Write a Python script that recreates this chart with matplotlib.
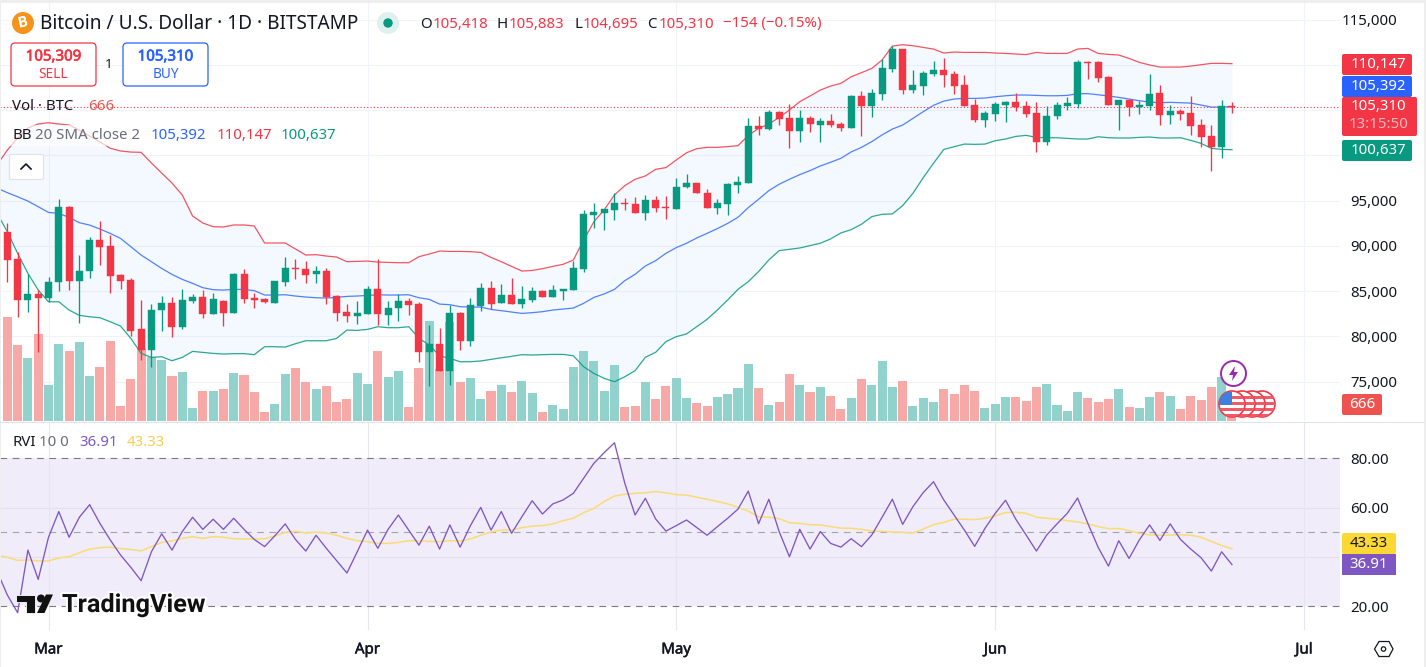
import numpy as np
import matplotlib
matplotlib.use('Agg')
import matplotlib.pyplot as plt
import matplotlib.patheffects as pe
from matplotlib.patches import Rectangle, FancyBboxPatch, Circle, Polygon

plt.rcParams['font.family'] = ['Noto Sans', 'DejaVu Sans']

W, H = 1426, 667

# candle data in thousands of USD, Feb 25 to Jun 24 (day 0 = Mar 1)
opens = [91.54, 88.55, 84.06, 84.7, 84.28, 85.98, 94.3, 86.16, 87.23, 90.66, 89.99, 86.79, 86.24, 80.82, 78.54, 82.92, 83.7, 81.08, 83.9, 84.36,
         82.48, 83.92, 82.59, 86.9, 84.25, 84.14, 83.7, 86.0, 87.56, 87.45, 86.9, 87.23, 84.47, 82.7, 82.26, 82.48, 85.24, 82.37, 83.14, 83.92,
         83.58, 78.28, 79.16, 76.18, 82.59, 79.5, 83.36, 85.35, 83.7, 84.58, 83.58, 84.03, 85.02, 84.36, 85.02, 85.13, 87.45, 93.42, 93.64, 93.97,
         94.78, 94.63, 93.64, 95.07, 94.3, 94.13, 96.51, 96.95, 95.85, 94.19, 94.63, 96.73, 96.95, 103.25, 102.92, 104.8, 104.14, 102.7, 104.14, 103.36,
         103.8, 103.47, 103.03, 106.57, 105.46, 106.79, 109.55, 111.76, 107.23, 107.67, 109.0, 109.44, 109.0, 107.78, 105.57, 103.92, 104.58, 105.57, 105.9, 105.46,
         104.69, 101.48, 104.36, 105.46, 105.68, 110.35, 110.32, 108.67, 105.57, 106.13, 105.35, 105.46, 106.9, 104.47, 104.91, 104.69, 103.36, 102.15, 100.93, 105.418]
highs = [92.5, 89.3, 86.9, 85.13, 86.53, 95.15, 94.41, 89.0, 91.02, 92.75, 91.2, 86.9, 86.42, 84.03, 83.55, 84.43, 84.36, 85.3, 84.7, 85.13,
         84.8, 84.03, 87.0, 87.45, 84.8, 84.25, 86.12, 88.78, 88.56, 88.33, 87.78, 87.56, 84.58, 83.58, 83.92, 85.57, 88.52, 83.92, 84.7, 84.25,
         83.8, 81.26, 80.93, 83.47, 82.74, 84.25, 85.9, 86.12, 85.79, 86.46, 85.57, 85.46, 85.13, 85.68, 85.3, 88.33, 93.97, 94.74, 94.08, 95.85,
         95.3, 95.41, 95.63, 95.52, 95.52, 97.52, 97.95, 96.95, 96.29, 95.19, 96.92, 97.73, 104.13, 104.36, 105.02, 104.91, 105.68, 105.02, 104.36, 104.14,
         104.58, 103.69, 106.68, 107.12, 107.3, 110.66, 112.09, 111.76, 109.44, 109.33, 110.43, 110.77, 109.33, 108.89, 106.24, 104.91, 105.9, 106.01, 106.9, 106.01,
         105.9, 105.46, 105.9, 106.46, 110.55, 110.4, 110.43, 108.78, 106.13, 106.2, 106.01, 109.0, 107.78, 105.57, 105.13, 106.57, 104.03, 103.36, 106.13, 105.883]
lows = [86.0, 82.2, 82.74, 78.28, 83.84, 85.06, 85.13, 81.52, 86.5, 87.93, 84.84, 85.24, 80.08, 77.43, 76.66, 80.64, 79.97, 80.86, 83.73, 82.04,
        82.48, 81.15, 82.59, 83.7, 83.14, 83.7, 83.7, 85.57, 86.35, 85.9, 85.9, 83.58, 81.71, 81.6, 81.37, 82.48, 81.26, 81.26, 81.7, 82.37,
        77.17, 74.52, 76.18, 74.63, 78.5, 78.94, 82.81, 83.03, 83.7, 83.58, 83.14, 83.8, 84.36, 84.36, 84.03, 85.13, 87.12, 91.98, 91.76, 92.87,
        93.97, 93.64, 92.87, 93.75, 92.98, 94.13, 96.41, 95.85, 94.19, 93.53, 93.42, 95.85, 96.95, 102.26, 102.81, 103.36, 100.82, 101.48, 102.59, 101.48,
        103.14, 102.7, 103.03, 102.15, 104.25, 106.13, 109.22, 106.79, 106.9, 106.68, 108.78, 107.56, 106.79, 105.46, 103.7, 103.14, 103.8, 103.69, 104.91, 104.25,
        100.38, 101.15, 104.03, 105.02, 105.24, 108.45, 108.11, 105.57, 102.81, 104.36, 104.58, 105.02, 103.36, 103.47, 103.92, 102.26, 100.93, 98.28, 99.72, 104.695]
closes = [88.48, 84.06, 84.7, 84.28, 85.98, 94.3, 86.16, 87.23, 90.66, 89.92, 86.71, 86.12, 80.64, 78.54, 82.92, 83.7, 81.08, 84.02, 84.4, 82.48,
          84.14, 82.59, 86.9, 84.14, 84.03, 83.8, 86.12, 87.56, 87.45, 86.79, 87.23, 84.36, 82.59, 82.26, 82.59, 85.24, 82.48, 83.14, 83.92, 83.47,
          78.28, 79.16, 76.18, 82.59, 79.5, 83.47, 85.35, 83.58, 84.58, 83.58, 84.14, 85.02, 84.36, 85.13, 85.24, 87.56, 93.53, 93.75, 94.08, 94.74,
          94.63, 93.64, 95.07, 94.19, 94.19, 96.49, 96.95, 95.85, 94.19, 94.74, 96.84, 97.06, 103.25, 102.92, 104.8, 104.03, 102.7, 104.14, 103.47, 103.8,
          103.36, 103.03, 106.57, 105.46, 106.86, 109.66, 111.76, 107.23, 107.78, 109.11, 109.44, 108.89, 107.67, 105.46, 103.92, 104.69, 105.68, 105.9, 105.35, 104.58,
          101.48, 104.36, 105.57, 105.79, 110.32, 110.25, 108.56, 105.57, 106.13, 105.35, 105.57, 106.79, 104.47, 104.91, 104.58, 103.25, 102.04, 100.93, 105.43, 105.31]

# volume in BTC
volumes = [4160, 3040, 2520, 3480, 1440, 3080, 2800, 3160, 1800, 2160, 3200, 600, 1680, 2920, 2560, 2440, 1800, 1960, 520, 1200,
           1200, 1280, 1920, 1840, 1160, 360, 680, 1880, 2120, 1560, 1280, 1400, 760, 880, 1920, 1480, 2800, 1760, 2000, 560,
           2120, 4000, 2080, 3960, 1560, 1720, 880, 1200, 1440, 1160, 1600, 1120, 360, 640, 480, 2160, 2800, 2400, 1200, 2240,
           560, 600, 1560, 880, 1400, 1720, 920, 720, 600, 960, 1080, 1320, 2280, 1320, 640, 760, 1880, 1440, 1160, 1360,
           1000, 480, 920, 1680, 1440, 2400, 1360, 1600, 600, 920, 760, 1280, 1080, 1440, 1200, 520, 680, 960, 960, 800,
           1360, 1480, 640, 400, 1160, 920, 760, 880, 1280, 560, 520, 960, 1160, 1000, 480, 1000, 840, 1360, 1760, 666]

# bollinger bands (thousands), one day earlier than the candles, Feb 24 to Jun 24
bb_upper = [98.95, 100.6, 101.93, 103.04, 103.48, 103.62, 103.48, 103.37, 102.8, 102.15, 101.5, 100.8, 100.5, 100.38, 100.35, 99.17, 98.06, 96.96, 95.63, 93.31,
            92.54, 92.13, 92.1, 92.32, 92.32, 92.21, 90.33, 90.33, 90.33, 89.67, 89.0, 89.04, 88.89, 88.78, 88.26, 88.3, 88.33, 88.22, 88.19, 88.15,
            88.15, 88.82, 89.11, 89.44, 89.4, 89.4, 89.37, 89.29, 88.74, 88.26, 87.75, 87.23, 87.3, 87.49, 87.75, 87.97, 88.45, 90.65, 92.68, 94.0,
            95.64, 96.67, 97.37, 97.74, 98.47, 98.66, 99.5, 100.3, 100.75, 100.9, 100.9, 100.98, 101.09, 102.2, 103.0, 103.47, 104.21, 105.02, 105.94, 106.57,
            107.23, 107.67, 107.97, 108.7, 109.15, 109.62, 110.54, 112.09, 112.24, 112.13, 111.94, 111.76, 111.32, 111.43, 111.39, 111.39, 111.39, 111.32, 111.28, 111.21,
            111.15, 111.39, 111.28, 111.28, 111.28, 111.76, 111.83, 111.28, 111.17, 111.1, 110.73, 110.29, 110.0, 109.77, 109.77, 109.77, 109.88, 110.03, 110.18, 110.18, 110.147]
bb_basis = [96.4, 95.89, 95.44, 94.96, 94.34, 93.71, 93.6, 93.16, 92.57, 92.31, 91.87, 91.39, 90.84, 89.92, 89.0, 88.26, 87.52, 86.86, 86.31, 85.87,
            85.39, 85.17, 85.13, 85.2, 85.2, 85.06, 84.58, 84.58, 84.61, 84.47, 84.36, 84.28, 84.25, 84.32, 84.43, 84.47, 84.54, 84.61, 84.58, 84.58,
            84.61, 84.28, 84.1, 83.58, 83.51, 83.29, 83.25, 83.25, 82.99, 82.85, 82.7, 82.55, 82.63, 82.74, 82.92, 83.03, 83.14, 83.66, 84.32, 84.7,
            85.21, 86.17, 86.87, 87.79, 88.38, 89.19, 89.82, 90.3, 90.89, 91.4, 91.92, 92.5, 93.17, 94.24, 95.16, 96.12, 96.82, 97.37, 97.88, 98.33,
            98.84, 99.25, 99.69, 100.39, 100.9, 101.53, 102.27, 102.92, 103.36, 104.1, 104.84, 105.54, 106.01, 106.24, 106.31, 106.31, 106.35, 106.49, 106.6, 106.68,
            106.68, 106.64, 106.6, 106.6, 106.64, 106.83, 106.83, 106.71, 106.57, 106.42, 106.24, 106.05, 105.9, 105.83, 105.87, 105.83, 105.79, 105.57, 105.35, 105.35, 105.392]
bb_lower = [93.6, 91.58, 89.18, 86.97, 85.13, 83.84, 83.84, 82.92, 82.33, 82.18, 82.07, 81.63, 81.15, 79.79, 78.13, 77.69, 77.76, 77.32, 77.69, 78.35,
            78.24, 78.13, 78.06, 78.1, 78.1, 77.99, 78.87, 78.87, 78.83, 79.2, 79.53, 79.53, 79.53, 79.79, 80.71, 80.67, 80.78, 81.08, 80.97, 80.97,
            81.08, 79.79, 79.05, 77.87, 77.58, 77.21, 77.21, 77.29, 77.47, 77.65, 77.8, 77.99, 77.95, 77.99, 78.02, 78.02, 77.87, 76.66, 75.92, 75.37,
            75.0, 75.55, 76.22, 77.7, 78.25, 79.43, 79.98, 80.28, 81.09, 81.9, 82.93, 84.04, 85.21, 86.06, 87.17, 88.46, 89.49, 89.63, 89.78, 90.04,
            90.3, 90.78, 91.44, 91.81, 92.4, 93.24, 93.5, 93.54, 94.46, 95.82, 97.55, 99.14, 100.67, 100.97, 101.26, 101.23, 101.26, 101.63, 101.82, 102.11,
            102.22, 102.0, 101.96, 101.96, 101.89, 101.82, 101.82, 102.07, 101.96, 101.93, 101.93, 102.0, 102.04, 101.93, 101.93, 101.96, 101.67, 101.34, 100.79, 100.67, 100.637]

# relative volatility index and its moving average, Feb 24 to Jun 24
rvi = [34.2, 24.6, 17.4, 42.8, 30.9, 48.0, 58.4, 48.0, 56.1, 61.2, 53.6, 46.9, 40.8, 35.8, 30.4, 42.1, 49.4, 42.8, 50.3, 56.1,
       51.2, 55.3, 51.2, 55.7, 51.2, 47.1, 44.2, 48.6, 53.4, 47.1, 42.4, 48.8, 43.5, 38.5, 33.5, 42.1, 50.9, 43.5, 51.2, 57.0,
       50.9, 44.8, 52.5, 43.2, 53.0, 44.0, 52.7, 60.1, 50.9, 58.4, 49.6, 56.3, 62.8, 57.4, 61.5, 63.1, 65.8, 71.9, 78.0, 82.3,
       86.3, 69.9, 57.0, 63.8, 55.4, 50.5, 52.7, 55.0, 51.9, 48.8, 52.3, 55.7, 59.4, 66.7, 53.5, 63.4, 50.3, 40.1, 51.2, 43.2,
       50.3, 45.5, 44.0, 47.4, 44.2, 48.9, 56.1, 63.4, 53.2, 60.4, 66.1, 70.5, 63.1, 57.0, 50.9, 44.3, 51.6, 57.7, 63.0, 55.3,
       48.9, 42.4, 48.9, 53.4, 57.7, 63.9, 53.6, 43.9, 36.3, 46.6, 39.4, 46.9, 53.0, 46.7, 53.4, 47.1, 43.2, 39.7, 34.3, 42.1, 36.91]
rvi_ma = [40.7, 39.9, 38.6, 38.8, 38.4, 38.4, 39.6, 40.1, 41.7, 43.2, 43.8, 44.0, 43.4, 43.0, 42.5, 44.2, 45.9, 46.5, 47.55, 48.2,
          47.55, 48.2, 48.0, 47.4, 47.3, 47.3, 47.4, 48.5, 50.0, 50.4, 49.7, 50.1, 49.7, 48.8, 47.55, 46.6, 46.2, 45.5, 45.5, 45.9,
          46.6, 46.5, 46.3, 46.2, 46.6, 46.5, 47.3, 48.8, 50.1, 50.9, 50.9, 51.9, 52.5, 52.7, 53.4, 54.7, 55.7, 58.0, 59.7, 62.5,
          64.7, 65.4, 65.8, 66.0, 66.5, 66.0, 65.3, 65.1, 64.2, 63.4, 62.5, 61.5, 60.1, 58.6, 56.3, 56.1, 55.5, 53.9, 53.6, 53.1,
          53.0, 52.3, 51.7, 51.6, 51.2, 50.5, 50.4, 50.1, 50.0, 49.7, 51.3, 53.1, 54.0, 55.3, 55.3, 55.1, 55.7, 56.7, 58.0, 58.1,
          57.7, 56.1, 55.7, 55.4, 54.7, 54.2, 53.4, 52.3, 51.5, 51.5, 50.7, 49.6, 49.0, 48.8, 48.9, 49.0, 48.8, 48.0, 46.3, 44.6, 43.33]

price_ticks = [75000, 80000, 85000, 90000, 95000, 100000, 105000, 110000, 115000]
# the middle three sit behind the tags on the scale
price_labelled = [75000, 80000, 85000, 90000, 95000, 115000]
rvi_ticks = [20, 40, 50, 60, 80]
rvi_labelled = [20, 60, 80]
month_days = [0, 31, 61, 92, 122]
month_names = ['Mar', 'Apr', 'May', 'Jun', 'Jul']

RED = '#f23645'
GREEN = '#089981'
BLUE = '#2962ff'
PURPLE = '#7e57c2'
YELLOW = '#fbdc74'
GRID = '#f0f3fa'
INK = '#131722'
GREY = '#6a6d78'

o = np.array(opens) * 1000
h = np.array(highs) * 1000
l = np.array(lows) * 1000
c = np.array(closes) * 1000
up = c >= o
days = np.arange(-4, 116)
line_days = np.arange(-5, 116)


def pane(top, bottom):
    # axes from pixel rows, chart area ends at x=1340
    a = fig.add_axes([0, 1 - bottom / H, 1340 / W, (bottom - top) / H])
    a.set_xlim(-4.713, 125.5)
    a.patch.set_visible(False)
    for s in a.spines.values():
        s.set_visible(False)
    return a


def heavy(color, w=0.35):
    # the installed Noto Sans has no heavier cut, so thicken with a stroke
    return [pe.withStroke(linewidth=w, foreground=color)]


fig = plt.figure(figsize=(W / 100, H / 100), dpi=100, facecolor='white')

# bottom layer of the price pane: grid, labels and band fill
ax_grid = pane(3, 421)
ax_grid.set_ylim(70660, 116850)
ax_grid.set_xticks(month_days)
ax_grid.set_yticks(price_ticks)
ax_grid.set_yticklabels(['{:,}'.format(t) if t in price_labelled else '' for t in price_ticks])
ax_grid.grid(True, color=GRID, lw=0.8)
ax_grid.set_axisbelow(True)
ax_grid.tick_params(axis='x', length=0, labelbottom=False)
ax_grid.tick_params(axis='y', length=0, labelleft=False, labelright=True, right=False,
                    labelsize=10.8, labelcolor=INK, pad=41)
for t in ax_grid.get_yticklabels():
    t.set_ha('right')
ax_grid.fill_between(line_days, np.array(bb_upper) * 1000, np.array(bb_lower) * 1000,
                     color='#2196f3', alpha=0.05, lw=0)

# volume, 40 BTC to the pixel
ax_vol = pane(3, 421)
ax_vol.set_ylim(0, 418 * 40)
ax_vol.axis('off')
ax_vol.bar(days, volumes, width=0.88, color=['#92d2cc' if u else '#f7a9a7' for u in up])

# candles and band lines
ax = pane(3, 421)
ax.set_ylim(70660, 116850)
ax.axis('off')
ax.plot(line_days, np.array(bb_upper) * 1000, color=RED, lw=0.9, alpha=0.85)
ax.plot(line_days, np.array(bb_basis) * 1000, color=BLUE, lw=0.9, alpha=0.8)
ax.plot(line_days, np.array(bb_lower) * 1000, color=GREEN, lw=0.9, alpha=0.85)
ax.axhline(c[-1], color=RED, lw=0.8, ls=(0, (1, 2)))
cols = [GREEN if u else RED for u in up]
ax.vlines(days, l, h, colors=cols, lw=0.95, zorder=4)
ax.bar(days, c - o, bottom=o, width=0.68, color=cols, edgecolor=cols, lw=0.3, zorder=5)

# rvi pane
ax_rvi = pane(422, 630)
ax_rvi.set_ylim(10.4, 94.71)
ax_rvi.axhspan(20, 80, color='#f0ecfa', lw=0, zorder=0)
ax_rvi.set_xticks(month_days)
ax_rvi.set_xticklabels(month_names)
ax_rvi.set_yticks(rvi_ticks)
ax_rvi.set_yticklabels(['{:.2f}'.format(t) if t in rvi_labelled else '' for t in rvi_ticks])
ax_rvi.grid(True, axis='x', color='#e6e6f0', lw=0.8)
ax_rvi.set_axisbelow(True)
ax_rvi.tick_params(axis='x', length=0, labelsize=10.8, labelcolor=INK, pad=9)
ax_rvi.tick_params(axis='y', length=0, labelleft=False, labelright=True, right=False,
                   labelsize=10.8, labelcolor=INK, pad=35)
for t in ax_rvi.get_yticklabels():
    t.set_ha('right')
for t in ax_rvi.get_xticklabels():
    t.set_path_effects(heavy(INK))
for v in [60, 40]:
    ax_rvi.axhline(v, color='#e3e1ec', lw=0.8, zorder=0.5)
for v, col in [(80, '#787b86'), (50, '#a3a5ae'), (20, '#787b86')]:
    ax_rvi.axhline(v, color=col, lw=0.8, ls=(0, (6, 5)), zorder=0.6)
ax_rvi.plot(line_days, rvi_ma, color=YELLOW, lw=1.1)
ax_rvi.plot(line_days, rvi, color=PURPLE, lw=0.95)

# everything else sits on a pixel overlay
ui = fig.add_axes([0, 0, 1, 1], zorder=10)
ui.set_xlim(0, W)
ui.set_ylim(H, 0)
ui.axis('off')
ui.patch.set_visible(False)


def txt(x, y, s, color=INK, size=10.8, ha='left', **kw):
    return ui.text(x, y, s, color=color, fontsize=size, ha=ha, va='center', **kw)


def tag(x0, y0, x1, y1, color):
    ui.add_patch(FancyBboxPatch((x0 + 2, y0 + 2), x1 - x0 - 4, y1 - y0 - 4,
                                boxstyle='round,pad=2', fc=color, ec='none'))


# window edges and pane divider
ui.add_patch(Rectangle((0, 0), W, 3, fc='#eeeeee', ec='none'))
ui.add_patch(Rectangle((0, 0), 1, H, fc='#eeeeee', ec='none'))
ui.add_patch(Rectangle((W - 2, 0), 2, H, fc='#eeeeee', ec='none'))
ui.plot([0, W - 2], [421.5, 421.5], color='#e0e3eb', lw=0.8)

# header line
ui.add_patch(Circle((23, 23), 11, fc='#f7931a', ec='none'))
txt(23, 23, 'B', color='white', size=10, ha='center', rotation=12, path_effects=heavy('white', 0.6))
txt(40, 24, 'Bitcoin / U.S. Dollar · 1D · BITSTAMP', size=13.7)
ui.add_patch(Circle((388, 23), 11, fc='#dff1ee', ec='none'))
ui.add_patch(Circle((388, 23), 4.7, fc=GREEN, ec='none'))
for x, s in [(420, 'O'), (496.5, 'H'), (574, 'L'), (647, 'C')]:
    txt(x, 24, s)
for x, s in [(432.5, '105,418'), (509, '105,883'), (583, '104,695'), (659, '105,310'), (723, '−154 (−0.15%)')]:
    txt(x, 24, s, color=RED)

# sell and buy boxes
ui.add_patch(FancyBboxPatch((15, 47), 77, 35, boxstyle='round,pad=4', fc='white', ec=RED, lw=0.9))
ui.add_patch(FancyBboxPatch((127, 47), 77, 35, boxstyle='round,pad=4', fc='white', ec=BLUE, lw=0.9))
txt(53.5, 57, '105,309', color=RED, ha='center', path_effects=heavy(RED, 0.5))
txt(53.5, 74, 'SELL', color=RED, size=9.8, ha='center')
txt(165.5, 57, '105,310', color=BLUE, ha='center', path_effects=heavy(BLUE, 0.5))
txt(165.5, 74, 'BUY', color=BLUE, size=9.8, ha='center')
txt(109, 64, '1', size=9.5, ha='center')

# legends, the BB row has a see-through backing
ui.add_patch(Rectangle((8, 125), 334, 21, fc='white', ec='none', alpha=0.65))
txt(12, 106, 'Vol · BTC')
txt(88, 106, '666', color='#ef5350')
txt(12, 135.5, 'BB')
txt(35, 135.5, '20 SMA close 2', color=GREY)
txt(151, 135.5, '105,392', color=BLUE)
txt(217, 135.5, '110,147', color=RED)
txt(281, 135.5, '100,637', color=GREEN)
txt(12, 443, 'RVI')
txt(39, 443, '10 0', color=GREY)
txt(79, 443, '36.91', color=PURPLE)
txt(127, 443, '43.33', color='#f5cf4d')

# collapse button
ui.add_patch(FancyBboxPatch((11, 156), 31, 22, boxstyle='round,pad=1.5', fc='white', ec='#e0e3eb', lw=0.9))
ui.plot([21, 26, 31], [169, 164, 169], color=INK, lw=1.2)

# price and rvi tags on the scale
tag(1342, 54, 1412, 75, RED)
tag(1342, 76, 1412, 97, BLUE)
tag(1342, 97, 1417, 136, RED)
tag(1342, 140, 1412, 161, GREEN)
tag(1342, 394, 1382, 415, '#ef5350')
tag(1342, 533, 1396, 554, '#fdd835')
ui.add_patch(Rectangle((1342, 554), 54, 21, fc=PURPLE, ec='none'))
txt(1378.5, 64, '110,147', color='white', ha='center')
txt(1378.5, 86.5, '105,392', color='white', ha='center')
txt(1378.5, 107, '105,310', color='white', ha='center')
txt(1378.5, 125, '13:15:50', color='#fbb6bc', ha='center')
txt(1378.5, 150, '100,637', color='white', ha='center')
txt(1362, 405, '666', color='white', ha='center')
txt(1369, 543.5, '43.33', ha='center')
txt(1369, 565, '36.91', color='white', ha='center')

# event markers: earnings style flags and the lightning one
for cx in [1262, 1252, 1242, 1232]:
    rim = Circle((cx, 404), 13, fc='white', ec=RED, lw=1.2, zorder=3)
    ui.add_patch(rim)
    for sy in [396, 402, 408, 414]:
        bar = Rectangle((cx - 14, sy), 28, 3, fc='#f25a67', ec='none', zorder=3)
        ui.add_patch(bar)
        bar.set_clip_path(rim)
    if cx == 1232:
        blue = Rectangle((cx - 13, 392), 13, 13, fc='#3f7fe0', ec='none', zorder=3)
        ui.add_patch(blue)
        blue.set_clip_path(rim)
ui.add_patch(Circle((1233.5, 373.5), 12.5, fc='white', ec='#9c27b0', lw=1.4))
ui.add_patch(Polygon([(1235, 366), (1229, 375), (1233, 375), (1232, 381), (1238, 372), (1234, 372)],
                     fc='#9c27b0', ec='none'))

# watermark
ui.add_patch(Polygon([(16, 594.5), (35, 594.5), (35, 613), (26, 613), (26, 602), (16, 602)], fc='#111111', ec='white', lw=0.6))
ui.add_patch(Circle((41, 598.5), 4, fc='#111111', ec='none'))
ui.add_patch(Polygon([(46, 594.5), (53, 594.5), (44.5, 613), (37, 613)], fc='#111111', ec='none'))
txt(62, 605, 'TradingView', color='#111111', size=18.2, fontfamily='Roboto', fontweight='bold',
    path_effects=[pe.withStroke(linewidth=3, foreground='white')])

# settings hexagon
ui.add_patch(Polygon([(1374.5, 649), (1379, 641.5), (1389, 641.5), (1393, 649), (1389, 656.5), (1379, 656.5)],
                     fc='white', ec=INK, lw=0.9))
ui.add_patch(Circle((1383.5, 649), 2.2, fc='white', ec=INK, lw=0.9))

fig.savefig('out.png', dpi=100)
